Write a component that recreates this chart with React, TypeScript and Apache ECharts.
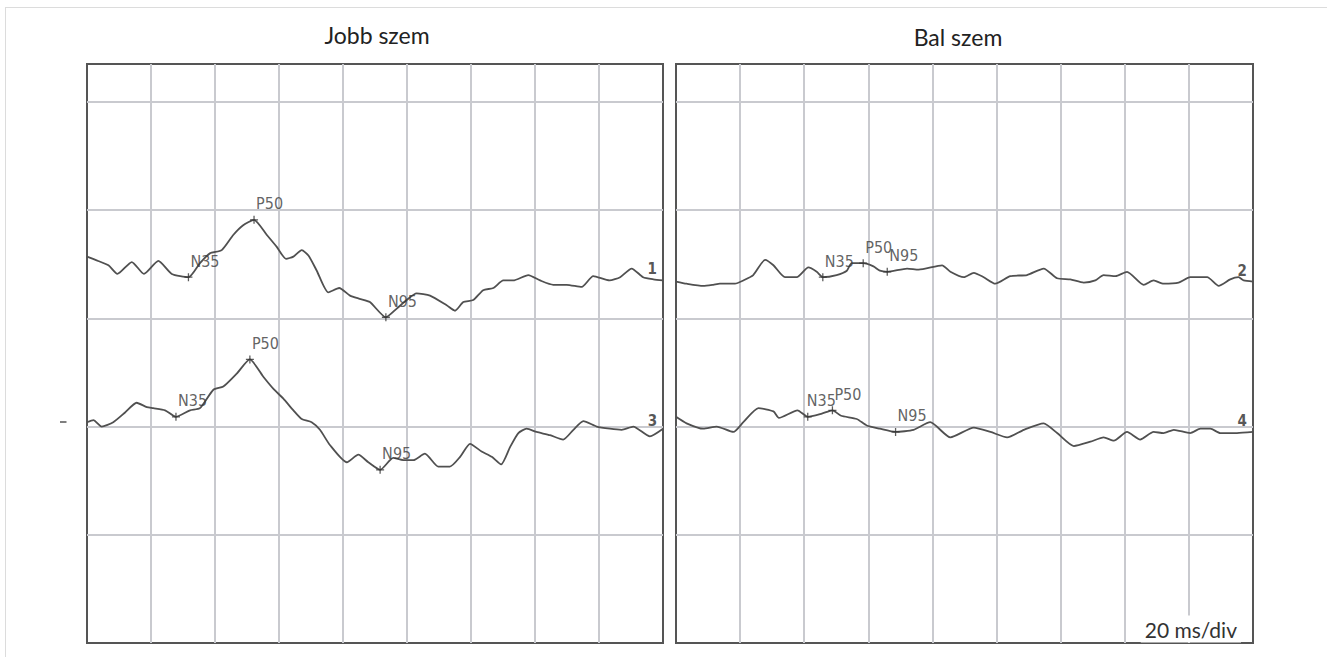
import React, { useEffect, useRef } from "react";
import * as echarts from "echarts";

// ---------- data (time in ms, amplitude in divisions above the bottom edge) ----------
const PANEL_TITLES = ["Jobb szem", "Bal szem"];
const TIMEBASE_LABEL = "20 ms/div";
const X_MAX_MS = 180;
const X_STEP_MS = 20;
const Y_MAX = 5.35;
const Y_STEP = 1;

const trace1: [number, number][] = [
  [0, 3.57], [3.5, 3.53], [6.7, 3.49], [9.5, 3.41], [14.0, 3.52], [17.8, 3.41], [22.3, 3.53],
  [26.5, 3.41], [31.7, 3.38], [35.3, 3.51], [38.4, 3.6], [42.1, 3.63], [45.7, 3.77], [48.8, 3.86],
  [52.2, 3.91], [56.2, 3.77], [59.3, 3.66], [62.2, 3.55], [64.5, 3.57], [67.1, 3.63], [69.2, 3.58],
  [71.8, 3.44], [75.4, 3.24], [78.8, 3.28], [82.2, 3.21], [85.2, 3.18], [88.4, 3.15], [93.4, 3.01],
  [96.8, 3.09], [99.9, 3.17], [103.0, 3.23], [107.2, 3.21], [112.4, 3.12], [115.0, 3.07],
  [117.6, 3.15], [120.7, 3.17], [123.8, 3.26], [127.0, 3.28], [130.1, 3.35], [133.2, 3.35],
  [137.9, 3.4], [141.6, 3.35], [145.7, 3.31], [149.9, 3.31], [154.6, 3.29], [158.2, 3.39],
  [163.3, 3.35], [166.6, 3.38], [170.2, 3.46], [173.8, 3.38], [177.0, 3.36], [180, 3.35],
];

const trace3: [number, number][] = [
  [0, 2.04], [2.0, 2.06], [4.6, 2.0], [8.2, 2.04], [11.9, 2.13], [15.5, 2.22], [18.7, 2.18],
  [20.7, 2.17], [24.4, 2.15], [27.8, 2.09], [32.2, 2.15], [35.3, 2.17], [39.5, 2.34], [42.6, 2.37],
  [46.8, 2.49], [50.9, 2.62], [55.1, 2.46], [58.2, 2.35], [61.3, 2.26], [64.5, 2.15], [67.1, 2.07],
  [70.2, 2.04], [72.8, 1.97], [75.9, 1.83], [81.2, 1.67], [84.8, 1.74], [87.9, 1.67], [91.6, 1.6],
  [95.7, 1.71], [98.8, 1.69], [102.0, 1.69], [105.6, 1.75], [109.8, 1.63], [113.4, 1.63],
  [116.6, 1.72], [119.7, 1.84], [123.3, 1.77], [126.5, 1.72], [129.4, 1.65], [132.2, 1.81],
  [134.8, 1.94], [137.4, 1.98], [140.5, 1.95], [144.7, 1.92], [148.8, 1.88], [152.0, 1.97],
  [155.1, 2.05], [159.3, 2.0], [163.4, 1.98], [167.1, 1.97], [170.7, 2.0], [175.9, 1.91], [180, 1.98],
];

const trace2: [number, number][] = [
  [0, 3.34], [3.3, 3.32], [8.5, 3.3], [11.6, 3.31], [13.7, 3.32], [18.4, 3.32], [21.0, 3.35],
  [24.1, 3.4], [27.8, 3.54], [30.4, 3.49], [34.0, 3.38], [37.7, 3.38], [41.3, 3.47], [43.9, 3.43],
  [45.8, 3.38], [50.1, 3.4], [53.3, 3.44], [54.8, 3.51], [58.4, 3.51], [61.6, 3.48], [63.6, 3.44],
  [65.9, 3.43], [72.1, 3.46], [75.7, 3.45], [83.0, 3.49], [85.6, 3.43], [89.8, 3.38], [92.9, 3.42],
  [96.0, 3.38], [99.6, 3.32], [104.3, 3.39], [109.5, 3.4], [114.7, 3.46], [118.9, 3.37],
  [123.0, 3.36], [127.2, 3.33], [130.8, 3.35], [133.4, 3.4], [137.1, 3.39], [140.7, 3.43],
  [145.9, 3.31], [149.0, 3.35], [152.1, 3.32], [156.8, 3.33], [160.4, 3.38], [165.7, 3.38],
  [169.3, 3.3], [172.9, 3.36], [175.5, 3.38], [177.1, 3.35], [180, 3.34],
];

const trace4: [number, number][] = [
  [0, 2.09], [3.3, 2.03], [8.5, 1.98], [12.7, 2.0], [17.9, 1.95], [21.0, 2.04], [25.7, 2.17],
  [30.4, 2.14], [32.1, 2.08], [37.9, 2.15], [41.1, 2.09], [45.5, 2.12], [48.8, 2.15], [51.5, 2.1],
  [56.4, 2.07], [59.5, 2.01], [63.6, 1.98], [68.5, 1.95], [74.1, 1.97], [79.3, 2.04], [85.6, 1.9],
  [92.9, 1.99], [98.1, 1.95], [103.3, 1.9], [108.5, 1.97], [114.7, 2.03], [118.9, 1.94],
  [124.1, 1.82], [129.3, 1.86], [133.4, 1.9], [136.6, 1.87], [140.7, 1.95], [144.8, 1.88],
  [149.0, 1.95], [152.1, 1.94], [155.3, 1.97], [160.4, 1.94], [163.6, 1.98], [166.7, 1.98],
  [169.8, 1.94], [175.0, 1.94], [180, 1.95],
];

// peak markers: [name, ms, value]
const peaks1: [string, number, number][] = [["N35", 31.7, 3.38], ["P50", 52.2, 3.91], ["N95", 93.4, 3.01]];
const peaks3: [string, number, number][] = [["N35", 27.8, 2.09], ["P50", 50.9, 2.62], ["N95", 91.6, 1.6]];
const peaks2: [string, number, number][] = [["N35", 45.8, 3.38], ["P50", 58.4, 3.51], ["N95", 65.9, 3.43]];
const peaks4: [string, number, number][] = [["N35", 41.1, 2.09], ["P50", 48.8, 2.15], ["N95", 68.5, 1.95]];

// channel numbers and where they sit
const channelNames = ["1", "3", "2", "4"];
const channelAnchors: [number, number][] = [[176.6, 3.46], [176.7, 2.05], [176.6, 3.44], [176.6, 2.05]];

const TRACES = [trace1, trace3, trace2, trace4];
const PEAKS = [peaks1, peaks3, peaks2, peaks4];
const TRACE_GRID = [0, 0, 1, 1];

const LABEL_FONT = "'Liberation Sans Narrow', 'DejaVu Sans Condensed', 'Liberation Sans', Arial, sans-serif";
const TITLE_FONT = "Lato, 'Open Sans', sans-serif";

const PLUS = "path://M4.2,0H5.8V4.2H10V5.8H5.8V10H4.2V5.8H0V4.2H4.2Z";

export default function App() {
  const ref = useRef<HTMLDivElement>(null);

  useEffect(() => {
    if (!ref.current) return;
    const chart = echarts.init(ref.current, undefined, { renderer: "svg" });

    const axisCommon = {
      axisLine: { show: false },
      axisTick: { show: false },
      axisLabel: { show: false },
      splitLine: {
        show: true,
        showMinLine: false,
        showMaxLine: false,
        lineStyle: { color: "#c9cacf", width: 2 },
      },
    };

    const series: any[] = [];
    TRACES.forEach((tr, i) => {
      series.push({
        type: "line",
        xAxisIndex: TRACE_GRID[i],
        yAxisIndex: TRACE_GRID[i],
        data: tr,
        showSymbol: false,
        smooth: 0.2,
        lineStyle: { color: "#505050", width: 1.8 },
        z: 3,
        silent: true,
      });
      series.push({
        type: "scatter",
        xAxisIndex: TRACE_GRID[i],
        yAxisIndex: TRACE_GRID[i],
        data: PEAKS[i].map((p, k) => ({
          name: p[0],
          value: [p[1], p[2]],
          label: i === 3 && k === 0 ? { offset: [-5, -16] } : undefined,
        })),
        symbol: PLUS,
        symbolSize: 8,
        itemStyle: { color: "#333333" },
        label: {
          show: true,
          formatter: "{b}",
          position: "right",
          distance: 0,
          offset: [-2, -16],
          fontFamily: LABEL_FONT,
          fontSize: 16,
          color: "#3a3a3a",
        },
        z: 4,
        silent: true,
      });
      series.push({
        type: "scatter",
        xAxisIndex: TRACE_GRID[i],
        yAxisIndex: TRACE_GRID[i],
        data: [{ name: channelNames[i], value: channelAnchors[i] }],
        symbolSize: 1,
        itemStyle: { color: "rgba(0,0,0,0)" },
        label: {
          show: true,
          formatter: "{b}",
          position: "inside",
          fontFamily: LABEL_FONT,
          fontWeight: "bold",
          fontSize: 15,
          color: "#2a2a2a",
        },
        z: 4,
        silent: true,
      });
    });

    chart.setOption({
      animation: false,
      backgroundColor: "#ffffff",
      grid: [
        { left: 87, top: 64, width: 576, height: 579, show: true, borderColor: "#555555", borderWidth: 2, backgroundColor: "rgba(0,0,0,0)", outerBoundsMode: "none" },
        { left: 676, top: 64, width: 577, height: 579, show: true, borderColor: "#555555", borderWidth: 2, backgroundColor: "rgba(0,0,0,0)", outerBoundsMode: "none" },
      ],
      xAxis: [0, 1].map((g) => ({ type: "value", gridIndex: g, min: 0, max: X_MAX_MS, interval: X_STEP_MS, ...axisCommon })),
      yAxis: [0, 1].map((g) => ({ type: "value", gridIndex: g, min: 0, max: Y_MAX, interval: Y_STEP, ...axisCommon })),
      series,
      graphic: [
        { type: "line", shape: { x1: 5, y1: 7.5, x2: 1327, y2: 7.5 }, style: { stroke: "#dcdcdc", lineWidth: 1 }, silent: true },
        { type: "line", shape: { x1: 5.5, y1: 7.5, x2: 5.5, y2: 657 }, style: { stroke: "#dcdcdc", lineWidth: 1 }, silent: true },
        { type: "line", shape: { x1: 60, y1: 422, x2: 66.5, y2: 422 }, style: { stroke: "#555555", lineWidth: 1.5 }, silent: true },
        { type: "text", x: 377, y: 35, style: { text: PANEL_TITLES[0], font: `23px ${TITLE_FONT}`, fill: "#222222", align: "center", verticalAlign: "middle" }, silent: true },
        { type: "text", x: 958, y: 37, style: { text: PANEL_TITLES[1], font: `23px ${TITLE_FONT}`, fill: "#222222", align: "center", verticalAlign: "middle" }, silent: true },
        {
          type: "text",
          x: 1241,
          y: 629,
          z: 10,
          style: {
            text: TIMEBASE_LABEL,
            font: `21px ${TITLE_FONT}`,
            fill: "#333333",
            align: "right",
            verticalAlign: "middle",
            backgroundColor: "#ffffff",
            padding: [3, 4, 3, 4],
          },
          silent: true,
        },
      ],
    });

    return () => chart.dispose();
  }, []);

  return (
    <div
      ref={ref}
      style={{ position: "fixed", left: 0, top: 0, width: 1327, height: 657, background: "#fff" }}
    />
  );
}
